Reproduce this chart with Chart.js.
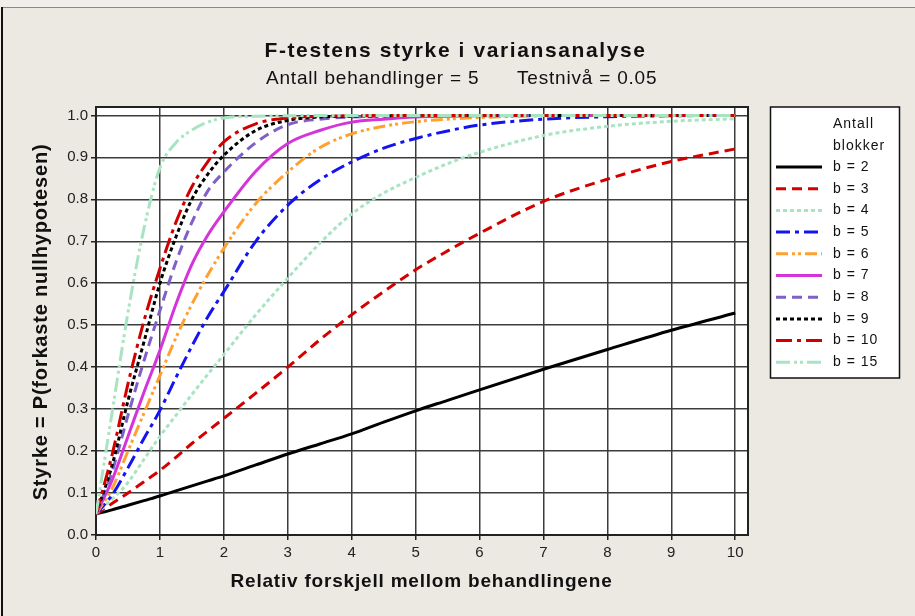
<!DOCTYPE html>
<html>
<head>
<meta charset="utf-8">
<script src="https://cdn.jsdelivr.net/npm/chart.js@4.4.1/dist/chart.umd.min.js"></script>
<style>
  html, body { margin: 0; padding: 0; background: #ece8e2; }
  #wrap { width: 915px; height: 616px; }
</style>
</head>
<body>
<div id="wrap"><canvas id="c" width="915" height="616"></canvas></div>
<script>
const xValues = [0, 0.25, 0.5, 0.75, 1, 1.25, 1.5, 1.75, 2, 2.5, 3, 3.5, 4, 4.5, 5, 5.5, 6, 7, 8, 9, 10];

// styrke for each number of blocks
const b2  = [0.05, 0.06, 0.071, 0.082, 0.093, 0.105, 0.117, 0.129, 0.141, 0.167, 0.193, 0.217, 0.241, 0.269, 0.296, 0.321, 0.346, 0.395, 0.442, 0.488, 0.529];
const b3  = [0.05, 0.075, 0.10, 0.127, 0.154, 0.185, 0.218, 0.248, 0.278, 0.338, 0.40, 0.465, 0.525, 0.58, 0.632, 0.677, 0.719, 0.795, 0.848, 0.89, 0.92];
const b4  = [0.05, 0.085, 0.125, 0.18, 0.235, 0.285, 0.335, 0.383, 0.43, 0.525, 0.612, 0.695, 0.765, 0.815, 0.852, 0.885, 0.912, 0.952, 0.974, 0.986, 0.992];
const b5  = [0.05, 0.095, 0.16, 0.23, 0.297, 0.375, 0.45, 0.52, 0.58, 0.70, 0.786, 0.846, 0.889, 0.922, 0.945, 0.963, 0.977, 0.991, 0.997, 0.999, 1.0];
const b6  = [0.05, 0.11, 0.20, 0.29, 0.38, 0.47, 0.55, 0.62, 0.683, 0.79, 0.865, 0.923, 0.956, 0.974, 0.985, 0.991, 0.995, 0.999, 1, 1, 1];
const b7  = [0.05, 0.13, 0.235, 0.34, 0.44, 0.55, 0.645, 0.715, 0.77, 0.867, 0.933, 0.964, 0.984, 0.991, 0.996, 0.998, 0.999, 1, 1, 1, 1];
const b8  = [0.05, 0.15, 0.285, 0.415, 0.535, 0.65, 0.745, 0.82, 0.865, 0.935, 0.978, 0.991, 0.996, 0.998, 0.999, 1, 1, 1, 1, 1, 1];
const b9  = [0.05, 0.165, 0.32, 0.46, 0.60, 0.71, 0.80, 0.86, 0.905, 0.964, 0.988, 0.996, 0.998, 0.999, 1, 1, 1, 1, 1, 1, 1];
const b10 = [0.05, 0.19, 0.36, 0.51, 0.635, 0.745, 0.83, 0.89, 0.937, 0.98, 0.994, 0.998, 0.999, 1, 1, 1, 1, 1, 1, 1, 1];
const b15 = [0.05, 0.29, 0.53, 0.73, 0.875, 0.935, 0.965, 0.984, 0.994, 0.998, 0.999, 1, 1, 1, 1, 1, 1, 1, 1, 1, 1];

const seriesValues = [b2, b3, b4, b5, b6, b7, b8, b9, b10, b15];
const seriesLabels = ['b = 2', 'b = 3', 'b = 4', 'b = 5', 'b = 6', 'b = 7', 'b = 8', 'b = 9', 'b = 10', 'b = 15'];

const xTicks = [0, 1, 2, 3, 4, 5, 6, 7, 8, 9, 10];
const yTicks = [0, 0.1, 0.2, 0.3, 0.4, 0.5, 0.6, 0.7, 0.8, 0.9, 1.0];

const chartTitle = 'F-testens styrke i variansanalyse';
const subLeft = 'Antall behandlinger = 5';
const subRight = 'Testnivå = 0.05';
const xTitle = 'Relativ forskjell mellom behandlingene';
const yTitle = 'Styrke = P(forkaste nullhypotesen)';
const legendTitle = ['Antall', 'blokker'];

// line look per series
const lineStyles = [
  { color: '#000000', dash: [] },
  { color: '#d40000', dash: [10, 6] },
  { color: '#a8e4c2', dash: [4, 3] },
  { color: '#1414f0', dash: [14, 5, 4, 5] },
  { color: '#ffa030', dash: [12, 4, 3, 3, 3, 4] },
  { color: '#d535d8', dash: [] },
  { color: '#7f5fc8', dash: [10, 6] },
  { color: '#000000', dash: [4, 3] },
  { color: '#d00000', dash: [16, 5, 4, 5] },
  { color: '#a8e4c2', dash: [14, 4, 3, 3, 3, 4] },
];

const BG = '#ece8e2';
const FONT = '"Liberation Sans", Arial, sans-serif';

function text(ctx, str, x, y, font, align, spacing) {
  ctx.font = font;
  ctx.letterSpacing = (spacing || 0) + 'px';
  ctx.textAlign = align;
  ctx.textBaseline = 'middle';
  ctx.fillText(str, x, y);
  ctx.letterSpacing = '0px';
}

const decor = {
  id: 'decor',
  beforeDraw(chart) {
    const { ctx, chartArea: a } = chart;
    ctx.save();
    ctx.fillStyle = '#f1eee9';
    ctx.fillRect(0, 0, chart.width, chart.height);
    ctx.fillStyle = BG;
    ctx.fillRect(3, 8, chart.width - 3, chart.height - 8);
    ctx.fillStyle = '#888';
    ctx.fillRect(3, 7, chart.width - 3, 1);
    ctx.fillStyle = '#111';
    ctx.fillRect(1, 7, 2, chart.height - 7);
    ctx.fillStyle = '#fff';
    ctx.fillRect(a.left, a.top, a.right - a.left, a.bottom - a.top);
    ctx.restore();
  },
  beforeDatasetsDraw(chart) {
    const { ctx, chartArea: a } = chart;
    ctx.save();
    ctx.strokeStyle = '#222';
    ctx.lineWidth = 2;
    ctx.strokeRect(a.left, a.top, a.right - a.left, a.bottom - a.top);
    ctx.restore();
  },
  afterDraw(chart) {
    const { ctx } = chart;
    ctx.save();
    ctx.fillStyle = '#111';
    text(ctx, chartTitle, 455.5, 51, 'bold 21px ' + FONT, 'center', 1.6);
    text(ctx, subLeft, 266, 79, '19px ' + FONT, 'left', 0.8);
    text(ctx, subRight, 517, 79, '19px ' + FONT, 'left', 0.8);
    text(ctx, xTitle, 421.5, 582, 'bold 19px ' + FONT, 'center', 0.8);
    ctx.save();
    ctx.translate(41, 322);
    ctx.rotate(-Math.PI / 2);
    text(ctx, yTitle, 0, 0, 'bold 20px ' + FONT, 'center', 0.8);
    ctx.restore();

    // legend box
    const lx = 770.5, ly = 107, lw = 129, lh = 271;
    ctx.fillStyle = '#fff';
    ctx.fillRect(lx, ly, lw, lh);
    ctx.strokeStyle = '#111';
    ctx.lineWidth = 1.5;
    ctx.strokeRect(lx, ly, lw, lh);
    ctx.fillStyle = '#111';
    text(ctx, legendTitle[0], 833, 124, '14px ' + FONT, 'left', 1);
    text(ctx, legendTitle[1], 833, 146, '14px ' + FONT, 'left', 1);
    chart.data.datasets.forEach((ds, i) => {
      const y = 167 + i * 21.7;
      ctx.save();
      ctx.strokeStyle = ds.borderColor;
      ctx.lineWidth = 3;
      ctx.setLineDash(ds.borderDash);
      ctx.beginPath();
      ctx.moveTo(776, y);
      ctx.lineTo(822, y);
      ctx.stroke();
      ctx.restore();
      ctx.fillStyle = '#111';
      text(ctx, ds.label, 833, y, '14px ' + FONT, 'left', 1);
    });
    ctx.restore();
  }
};

const datasets = seriesValues.map((vals, i) => ({
  label: seriesLabels[i],
  data: vals.map((v, j) => ({ x: xValues[j], y: v })),
  borderColor: lineStyles[i].color,
  borderDash: lineStyles[i].dash,
  borderWidth: 3,
  pointRadius: 0,
  fill: false,
  cubicInterpolationMode: 'monotone',
  order: seriesValues.length - i,
}));

const tickFont = { family: FONT, size: 15 };
const gridOpts = { color: '#3c3c3c', lineWidth: 1.5, tickLength: 5, tickColor: '#222', tickWidth: 1.5 };

new Chart(document.getElementById('c'), {
  type: 'line',
  data: { datasets },
  options: {
    responsive: false,
    animation: false,
    devicePixelRatio: 1,
    layout: { padding: { top: 107, right: 167, left: 0, bottom: 0 } },
    plugins: { legend: { display: false }, tooltip: { enabled: false }, title: { display: false } },
    scales: {
      x: {
        type: 'linear',
        min: 0, max: 10.2,
        afterFit: s => { s.height = 81; },
        afterBuildTicks: s => { s.ticks = xTicks.map(v => ({ value: v })); },
        ticks: { font: tickFont, color: '#222', padding: 4, maxRotation: 0, callback: v => String(v) },
        grid: gridOpts,
        border: { display: false },
      },
      y: {
        type: 'linear',
        min: 0, max: 1.02,
        afterFit: s => { s.width = 96; },
        afterBuildTicks: s => { s.ticks = yTicks.map(v => ({ value: v })); },
        ticks: { font: tickFont, color: '#222', padding: 3, callback: v => v.toFixed(1) },
        grid: gridOpts,
        border: { display: false },
      },
    },
  },
  plugins: [decor],
});
</script>
</body>
</html>
